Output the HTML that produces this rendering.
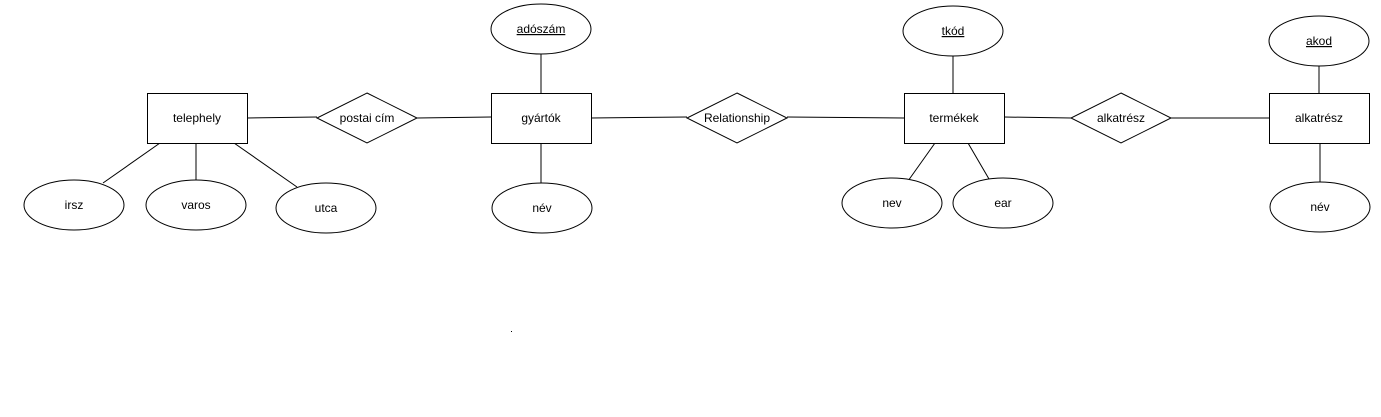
<!DOCTYPE html>
<html><head><meta charset="utf-8"><style>
html,body{margin:0;padding:0;background:#fff;}
svg text{font-family:"Liberation Sans",sans-serif;font-size:12px;fill:#000;}
</style></head><body>
<svg width="1381" height="412" viewBox="0 0 1381 412" xmlns="http://www.w3.org/2000/svg">
<g stroke="#000" stroke-width="1" fill="none">
<line x1="247" y1="118" x2="317" y2="117"/>
<line x1="417" y1="118" x2="491" y2="117"/>
<line x1="591" y1="118" x2="687" y2="117"/>
<line x1="787" y1="117" x2="904" y2="118"/>
<line x1="1004" y1="117" x2="1071" y2="118"/>
<line x1="1171" y1="118" x2="1269" y2="118"/>
<line x1="541" y1="54" x2="541" y2="93"/>
<line x1="541" y1="143" x2="541" y2="183"/>
<line x1="953" y1="56" x2="953" y2="93"/>
<line x1="935" y1="143" x2="908" y2="181"/>
<line x1="968" y1="143" x2="989" y2="179"/>
<line x1="1319" y1="66" x2="1319" y2="93"/>
<line x1="1320" y1="143" x2="1320" y2="182"/>
<line x1="160" y1="143" x2="103" y2="183"/>
<line x1="196" y1="143" x2="196" y2="180"/>
<line x1="234" y1="143" x2="297" y2="187"/>
</g>
<g stroke="#000" stroke-width="1" fill="#fff">
<rect x="147.5" y="93.5" width="100" height="50"/>
<rect x="491.5" y="93.5" width="100" height="50"/>
<rect x="904.5" y="93.5" width="100" height="50"/>
<rect x="1269.5" y="93.5" width="100" height="50"/>
<polygon points="367,93 417,118 367,143 317,118"/>
<polygon points="737,93 787,118 737,143 687,118"/>
<polygon points="1121,93 1171,118 1121,143 1071,118"/>
<ellipse cx="541" cy="29" rx="50" ry="25"/>
<ellipse cx="542" cy="208" rx="50" ry="25"/>
<ellipse cx="953" cy="31" rx="50" ry="25"/>
<ellipse cx="892" cy="203" rx="50" ry="25"/>
<ellipse cx="1003" cy="203" rx="50" ry="25"/>
<ellipse cx="1319" cy="41" rx="50" ry="25"/>
<ellipse cx="1320" cy="207" rx="50" ry="25"/>
<ellipse cx="74" cy="205" rx="50" ry="25"/>
<ellipse cx="196" cy="205" rx="50" ry="25"/>
<ellipse cx="326" cy="208" rx="50" ry="25"/>
</g>
<g text-anchor="middle">
<text x="197" y="122">telephely</text>
<text x="541" y="122">gyártók</text>
<text x="954" y="122">termékek</text>
<text x="1319" y="122">alkatrész</text>
<text x="367" y="122">postai cím</text>
<text x="737" y="122">Relationship</text>
<text x="1121" y="122">alkatrész</text>
<text x="541" y="33" text-decoration="underline">adószám</text>
<text x="542" y="212">név</text>
<text x="953" y="35" text-decoration="underline">tkód</text>
<text x="892" y="207">nev</text>
<text x="1003" y="207">ear</text>
<text x="1319" y="45" text-decoration="underline">akod</text>
<text x="1320" y="211">név</text>
<text x="74" y="209">irsz</text>
<text x="196" y="209">varos</text>
<text x="326" y="212">utca</text>
</g>
<rect x="511" y="331" width="1" height="1" fill="#000"/>
</svg>
</body></html>
